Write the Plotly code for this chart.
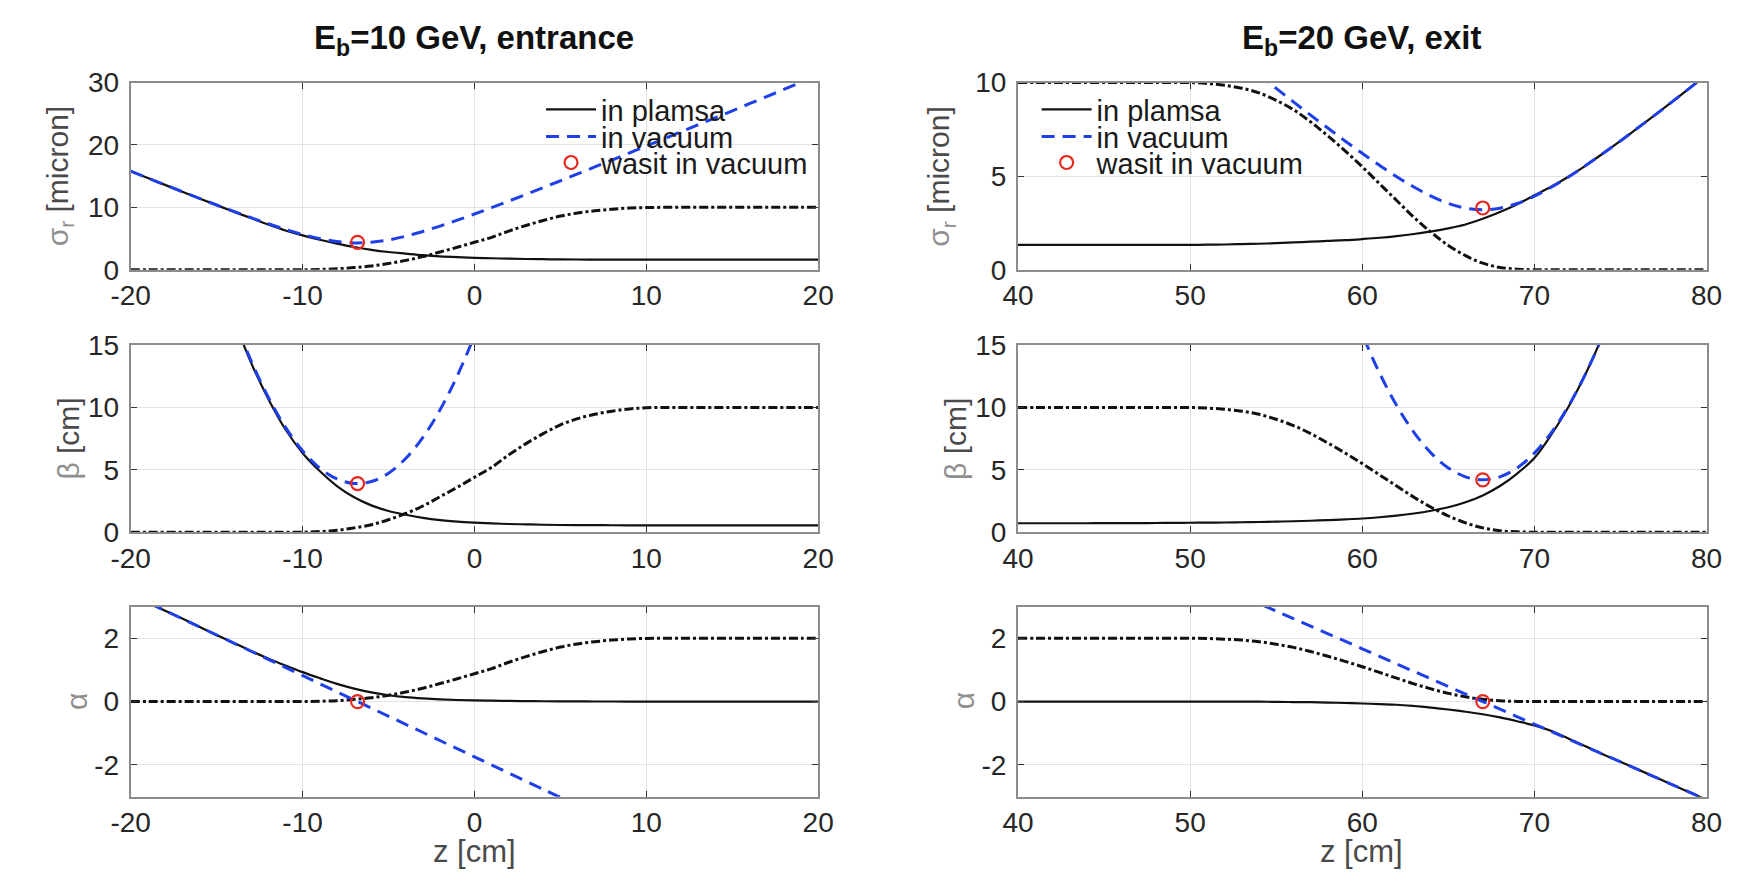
import plotly.graph_objects as go

W, H = 1747, 885
FONT = "Liberation Sans, Arial, Helvetica, sans-serif"

# ---------------- data: entrance, E_b = 10 GeV ----------------
z_ent = [-20, -19, -18, -17, -16, -15, -14, -13, -12, -11, -10, -9, -8, -7, -6, -5, -4, -3, -2, -1,
         0, 1, 2, 3, 4, 5, 6, 7, 8, 9, 10, 11, 12, 13, 14, 15, 16, 17, 18, 19, 20]

sig_plasma_ent = [15.8, 14.7, 13.6, 12.5, 11.43, 10.36, 9.3, 8.28, 7.25, 6.3, 5.5, 4.8, 4.19, 3.64, 3.19,
                  2.84, 2.58, 2.33, 2.14, 2.01, 1.91, 1.84, 1.77, 1.72, 1.69, 1.66, 1.64, 1.63, 1.62, 1.61,
                  1.61, 1.61, 1.61, 1.61, 1.61, 1.61, 1.61, 1.61, 1.61, 1.61, 1.61]
sig_vacuum_ent = [15.80, 14.70, 13.60, 12.51, 11.44, 10.38, 9.34, 8.34, 7.37, 6.47, 5.66, 4.99, 4.52, 4.30,
                  4.40, 4.77, 5.37, 6.14, 7.00, 7.94, 8.93, 9.96, 11.01, 12.08, 13.16, 14.26, 15.36, 16.47,
                  17.58, 18.70, 19.82, 20.95, 22.08, 23.21, 24.34, 25.47, 26.61, 27.75, 28.89, 30.03, 31.17]
dens_sig_ent = [0, 0, 0, 0, 0, 0, 0, 0, 0, 0, 0, 0.05, 0.15, 0.35, 0.6, 1.0, 1.5, 2.1, 2.85, 3.6,
                4.4, 5.2, 6.2, 7.1, 7.9, 8.6, 9.1, 9.45, 9.7, 9.88, 9.97, 10, 10, 10, 10, 10, 10, 10, 10, 10, 10]

beta_plasma_ent = [48.6, 42.1, 36.1, 30.6, 25.6, 21.1, 17.1, 13.6, 10.7, 8.25, 6.35, 4.9, 3.7, 2.8, 2.15,
                   1.7, 1.4, 1.15, 0.97, 0.85, 0.77, 0.71, 0.66, 0.63, 0.6, 0.58, 0.57, 0.565, 0.56, 0.555,
                   0.55, 0.55, 0.55, 0.55, 0.55, 0.55, 0.55, 0.55, 0.55, 0.55, 0.55]
z_beta_vac_ent = [-20, -19, -18, -17, -16, -15, -14, -13, -12, -11, -10, -9, -8, -7, -6, -5, -4, -3, -2, -1, 0, 1, 2]
beta_vacuum_ent = [48.58, 42.06, 36.06, 30.58, 25.60, 21.14, 17.19, 13.76, 10.83, 8.42, 6.53, 5.14, 4.27,
                   3.91, 4.06, 4.73, 5.91, 7.60, 9.81, 12.53, 15.76, 19.5, 23.76]
dens_beta_ent = [0, 0, 0, 0, 0, 0, 0, 0, 0, 0, 0, 0.05, 0.15, 0.35, 0.6, 1.0, 1.5, 2.1, 2.85, 3.6,
                 4.4, 5.2, 6.2, 7.1, 7.9, 8.6, 9.1, 9.45, 9.7, 9.88, 9.97, 10, 10, 10, 10, 10, 10, 10, 10, 10, 10]

alpha_plasma_ent = [3.38, 3.13, 2.87, 2.62, 2.36, 2.1, 1.85, 1.6, 1.36, 1.14, 0.93, 0.74, 0.56, 0.41, 0.29,
                    0.2, 0.14, 0.1, 0.07, 0.05, 0.035, 0.027, 0.02, 0.015, 0.01, 0.007, 0.005, 0.003, 0.002,
                    0.001, 0, 0, 0, 0, 0, 0, 0, 0, 0, 0, 0]
z_alpha_vac_ent = [-20, -16, -12, -8, -4, 0, 4, 8]
alpha_vacuum_ent = [3.385, 2.359, 1.333, 0.308, -0.718, -1.744, -2.769, -3.795]
dens_alpha_ent = [0, 0, 0, 0, 0, 0, 0, 0, 0, 0, 0, 0.01, 0.03, 0.07, 0.12, 0.2, 0.3, 0.42, 0.57, 0.72,
                  0.88, 1.04, 1.24, 1.42, 1.58, 1.72, 1.82, 1.89, 1.94, 1.976, 1.994, 2, 2, 2, 2, 2, 2, 2, 2, 2, 2]

waist_z_ent = [-6.8]
waist_sig_ent = [4.4]
waist_beta_ent = [3.9]
waist_alpha_ent = [0.0]

# ---------------- data: exit, E_b = 20 GeV ----------------
z_exit = [40, 41, 42, 43, 44, 45, 46, 47, 48, 49, 50, 51, 52, 53, 54, 55, 56, 57, 58, 59, 60,
          61, 62, 63, 64, 65, 66, 67, 68, 69, 70, 71, 72, 73, 74, 75, 76, 77, 78, 79, 80]

sig_plasma_exit = [1.33, 1.33, 1.33, 1.33, 1.33, 1.33, 1.33, 1.33, 1.33, 1.33, 1.33, 1.34, 1.35, 1.37, 1.39,
                   1.42, 1.46, 1.5, 1.54, 1.58, 1.64, 1.71, 1.8, 1.91, 2.05, 2.21, 2.42, 2.72, 3.08, 3.5,
                   3.98, 4.45, 4.98, 5.58, 6.22, 6.88, 7.57, 8.26, 8.97, 9.69, 10.41]
z_sig_vac_exit = [53, 54, 55, 56, 57, 58, 59, 60, 61, 62, 63, 64, 65, 66, 67, 68, 69, 70, 71, 72, 73, 74,
                  75, 76, 77, 78, 79, 80]
sig_vacuum_exit = [11.13, 10.41, 9.69, 8.97, 8.26, 7.57, 6.88, 6.22, 5.58, 4.97, 4.42, 3.93, 3.54, 3.29, 3.2,
                   3.29, 3.54, 3.93, 4.42, 4.97, 5.58, 6.22, 6.88, 7.57, 8.26, 8.97, 9.69, 10.41]
dens_sig_exit = [10, 10, 10, 10, 10, 10, 10, 10, 10, 10, 10, 9.95, 9.85, 9.7, 9.45, 9.05, 8.55, 7.9, 7.15,
                 6.35, 5.5, 4.6, 3.7, 2.8, 2.0, 1.3, 0.75, 0.35, 0.12, 0.03, 0, 0, 0, 0, 0, 0, 0, 0, 0, 0, 0]

beta_plasma_exit = [0.72, 0.72, 0.72, 0.72, 0.72, 0.73, 0.73, 0.73, 0.74, 0.75, 0.76, 0.77, 0.78, 0.8, 0.82,
                    0.85, 0.88, 0.92, 0.97, 1.03, 1.1, 1.2, 1.33, 1.5, 1.72, 2.0, 2.4, 2.95, 3.7, 4.7, 5.95,
                    7.85, 10.1, 12.75, 15.87, 19.44, 23.49, 28.0, 33.0, 38.5, 44.4]
z_beta_vac_exit = [58, 59, 60, 61, 62, 63, 64, 65, 66, 67, 68, 69, 70, 71, 72, 73, 74, 75, 76]
beta_vacuum_exit = [23.49, 19.44, 15.87, 12.77, 10.15, 8.01, 6.34, 5.15, 4.44, 4.2, 4.44, 5.15, 6.34, 8.01,
                    10.15, 12.77, 15.87, 19.44, 23.49]
dens_beta_exit = [10, 10, 10, 10, 10, 10, 10, 10, 10, 10, 10, 9.95, 9.85, 9.7, 9.45, 9.05, 8.55, 7.9, 7.15,
                  6.35, 5.5, 4.6, 3.7, 2.8, 2.0, 1.3, 0.75, 0.35, 0.12, 0.03, 0, 0, 0, 0, 0, 0, 0, 0, 0, 0, 0]

alpha_plasma_exit = [0, 0, 0, 0, 0, 0, 0, 0, 0, 0, 0, 0, 0, 0, 0, -0.01, -0.015, -0.02, -0.03, -0.045, -0.06,
                     -0.08, -0.1, -0.14, -0.19, -0.25, -0.32, -0.4, -0.5, -0.62, -0.75, -0.93, -1.17, -1.42,
                     -1.67, -1.9, -2.14, -2.38, -2.62, -2.86, -3.1]
z_alpha_vac_exit = [52, 56, 60, 64, 68, 72, 76, 80]
alpha_vacuum_exit = [3.571, 2.619, 1.667, 0.714, -0.238, -1.190, -2.143, -3.095]
dens_alpha_exit = [2, 2, 2, 2, 2, 2, 2, 2, 2, 2, 2, 1.99, 1.97, 1.94, 1.89, 1.81, 1.71, 1.58, 1.43, 1.27, 1.1,
                   0.92, 0.74, 0.56, 0.4, 0.26, 0.15, 0.07, 0.024, 0.006, 0, 0, 0, 0, 0, 0, 0, 0, 0, 0, 0]

waist_z_exit = [67.0]
waist_sig_exit = [3.3]
waist_beta_exit = [4.2]
waist_alpha_exit = [0.0]

# ---------------- labels ----------------
legend_labels = ["in plamsa", "in vacuum", "wasit in vacuum"]
titles = ["<b>E<sub>b</sub>=10 GeV, entrance</b>", "<b>E<sub>b</sub>=20 GeV, exit</b>"]
x_ticks_ent = [-20, -10, 0, 10, 20]
x_ticktext_ent = ["-20", "-10", "0", "10", "20"]
x_ticks_exit = [40, 50, 60, 70, 80]
x_ticktext_exit = ["40", "50", "60", "70", "80"]
alpha_ticks = [-2, 0, 2]
alpha_ticktext = ["-2", "0", "2"]

# ---------------- styles ----------------
BLACK = "#111111"
BLUE = "#1f3fe8"
RED = "#e8281e"
plasma_line = dict(color=BLACK, width=2.2)
vac_line = dict(color=BLUE, width=3, dash="13px,8px")
dens_line = dict(color=BLACK, width=3, dash="9px,3px,3px,3px")

fig = go.Figure()

panels = [
    (1, z_ent, sig_plasma_ent, z_ent, sig_vacuum_ent, dens_sig_ent, waist_z_ent, waist_sig_ent),
    (2, z_exit, sig_plasma_exit, z_sig_vac_exit, sig_vacuum_exit, dens_sig_exit, waist_z_exit, waist_sig_exit),
    (3, z_ent, beta_plasma_ent, z_beta_vac_ent, beta_vacuum_ent, dens_beta_ent, waist_z_ent, waist_beta_ent),
    (4, z_exit, beta_plasma_exit, z_beta_vac_exit, beta_vacuum_exit, dens_beta_exit, waist_z_exit, waist_beta_exit),
    (5, z_ent, alpha_plasma_ent, z_alpha_vac_ent, alpha_vacuum_ent, dens_alpha_ent, waist_z_ent, waist_alpha_ent),
    (6, z_exit, alpha_plasma_exit, z_alpha_vac_exit, alpha_vacuum_exit, dens_alpha_exit, waist_z_exit, waist_alpha_exit),
]

for idx, z, yp, zv, yv, yd, wz, wy in panels:
    xa = "x" if idx == 1 else f"x{idx}"
    ya = "y" if idx == 1 else f"y{idx}"
    leg = None
    if idx == 1:
        leg = ["legend", "legend2", "legend3"]
    elif idx == 2:
        leg = ["legend4", "legend5", "legend6"]
    fig.add_trace(go.Scatter(x=z, y=yd, mode="lines", line=dens_line, line_shape="spline",
                             xaxis=xa, yaxis=ya, showlegend=False, hoverinfo="skip"))
    fig.add_trace(go.Scatter(x=z, y=yp, mode="lines", line=plasma_line, line_shape="spline",
                             xaxis=xa, yaxis=ya, name=legend_labels[0],
                             showlegend=leg is not None, legend=leg[0] if leg else None))
    fig.add_trace(go.Scatter(x=zv, y=yv, mode="lines", line=vac_line, line_shape="spline",
                             xaxis=xa, yaxis=ya, name=legend_labels[1],
                             showlegend=leg is not None, legend=leg[1] if leg else None))
    fig.add_trace(go.Scatter(x=wz, y=wy, mode="markers",
                             marker=dict(symbol="circle-open", size=13, color=RED, line=dict(width=2.2, color=RED)),
                             xaxis=xa, yaxis=ya, name=legend_labels[2],
                             showlegend=leg is not None, legend=leg[2] if leg else None))

# ---------------- axes ----------------
col_dom = [[113 / W, 815 / W], [1019 / W, 1722 / W]]
row_dom = [[1 - 264 / H, 1 - 70 / H], [1 - 536 / H, 1 - 342 / H], [1 - 810 / H, 1 - 613 / H]]
y_specs = [
    dict(range=[0, 30], tickvals=[0, 10, 20, 30], ticktext=["0", "10", "20", "30"]),
    dict(range=[0, 10], tickvals=[0, 5, 10], ticktext=["0", "5", "10"]),
    dict(range=[0, 15], tickvals=[0, 5, 10, 15], ticktext=["0", "5", "10", "15"]),
    dict(range=[0, 15], tickvals=[0, 5, 10, 15], ticktext=["0", "5", "10", "15"]),
    dict(range=[-3, 3], tickvals=alpha_ticks, ticktext=alpha_ticktext),
    dict(range=[-3, 3], tickvals=alpha_ticks, ticktext=alpha_ticktext),
]
common = dict(showgrid=True, gridcolor="#e2e2e2", gridwidth=1, showline=True, mirror="ticks",
              linecolor="#8c8c8c", linewidth=2, zeroline=False, ticks="inside", ticklen=6,
              tickcolor="#333333", tickwidth=1.2,
              tickfont=dict(family=FONT, size=28, color="#262626"), fixedrange=True)
layout_axes = {}
for i in range(6):
    idx = i + 1
    col = i % 2
    row = i // 2
    xk = "xaxis" if idx == 1 else f"xaxis{idx}"
    yk = "yaxis" if idx == 1 else f"yaxis{idx}"
    xspec = dict(range=[-20, 20], tickvals=x_ticks_ent, ticktext=x_ticktext_ent) if col == 0 else \
        dict(range=[40, 80], tickvals=x_ticks_exit, ticktext=x_ticktext_exit)
    layout_axes[xk] = dict(domain=col_dom[col], anchor="y" if idx == 1 else f"y{idx}",
                           ticklabelstandoff=0, **xspec, **common)
    layout_axes[yk] = dict(domain=row_dom[row], anchor="x" if idx == 1 else f"x{idx}",
                           ticklabelstandoff=4, **y_specs[i], **common)

fig.update_layout(**layout_axes)

# ---------------- legends ----------------
leg_common = dict(bgcolor="rgba(0,0,0,0)", borderwidth=0, itemwidth=50,
                  font=dict(family=FONT, size=29, color="#1a1a1a"),
                  xanchor="left", yanchor="middle", tracegroupgap=0, itemclick=False, itemdoubleclick=False)
rows_y = [98, 126, 153]
legs = {}
for j, ry in enumerate(rows_y):
    k1 = "legend" if j == 0 else f"legend{j + 1}"
    legs[k1] = dict(x=532 / W, y=1 - ry / H, **leg_common)
    legs[f"legend{j + 4}"] = dict(x=1038 / W, y=1 - ry / H, **leg_common)
fig.update_layout(**legs)

# ---------------- annotations ----------------
GREEK = "#8f8f8f"
LABEL = "#4a4a4a"
ann = []
centers_x = [464, 1370]
for c, t in zip(centers_x, titles):
    ann.append(dict(text=t, x=c / W, y=1 - 26 / H, xref="paper", yref="paper", showarrow=False,
                    xanchor="center", yanchor="middle", font=dict(family=FONT, size=33, color="#111111")))
    ann.append(dict(text="z [cm]", x=c / W, y=1 - 867 / H, xref="paper", yref="paper", showarrow=False,
                    xanchor="center", yanchor="middle", font=dict(family=FONT, size=31, color=LABEL)))
ylabels = [
    (f"<span style='color:{GREEK}'>σ<sub>r</sub></span> [micron]", [40, 940], 167),
    (f"<span style='color:{GREEK}'>β</span> [cm]", [50, 955], 439),
    (f"<span style='color:{GREEK}'>α</span>", [57, 963], 711),
]
for text, xs, yc in ylabels:
    for xp in xs:
        ann.append(dict(text=text, x=xp / W, y=1 - yc / H, xref="paper", yref="paper", showarrow=False,
                        textangle=-90, xanchor="center", yanchor="middle",
                        font=dict(family=FONT, size=30, color=LABEL)))

fig.update_layout(annotations=ann, width=W, height=H, autosize=False,
                  margin=dict(l=0, r=0, t=0, b=0), paper_bgcolor="white", plot_bgcolor="white",
                  font=dict(family=FONT), hovermode=False)

fig.write_html("out.html", config={"displayModeBar": False})
